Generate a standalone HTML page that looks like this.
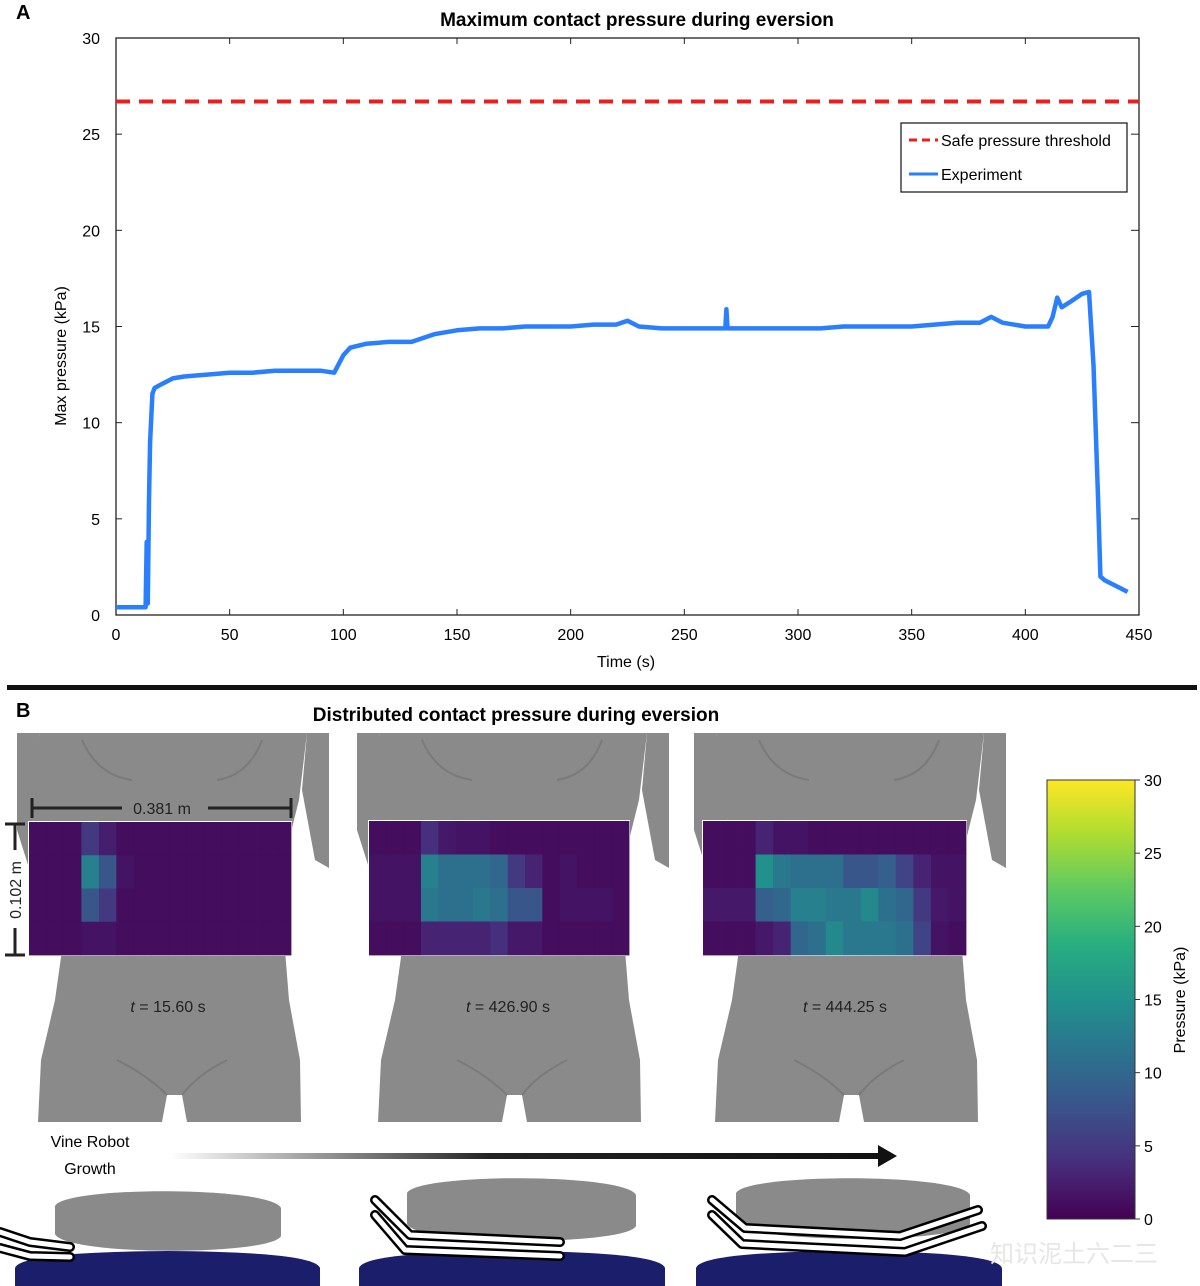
<!DOCTYPE html>
<html><head><meta charset="utf-8"><style>
body{margin:0;background:#fff;}
svg{display:block;font-family:"Liberation Sans","Noto Sans CJK SC",sans-serif;}
</style></head><body>
<svg id="fig" width="1200" height="1286" viewBox="0 0 1200 1286" xmlns="http://www.w3.org/2000/svg">
<defs>
<linearGradient id="arrowGrad" x1="0" x2="1" y1="0" y2="0"><stop offset="0" stop-color="#fff"/><stop offset="0.45" stop-color="#222"/><stop offset="1" stop-color="#111"/></linearGradient>
<linearGradient id="cbGrad" x1="0" x2="0" y1="1" y2="0">
<stop offset="0" stop-color="#440154"/><stop offset="0.125" stop-color="#472d7b"/><stop offset="0.25" stop-color="#3b528b"/><stop offset="0.375" stop-color="#2c728e"/><stop offset="0.5" stop-color="#21918c"/><stop offset="0.625" stop-color="#28ae80"/><stop offset="0.75" stop-color="#5ec962"/><stop offset="0.875" stop-color="#addc30"/><stop offset="1" stop-color="#fde725"/></linearGradient>
</defs>
<text x="16" y="19" font-size="20" font-weight="bold">A</text>
<text x="637" y="26" font-size="19" font-weight="bold" text-anchor="middle">Maximum contact pressure during eversion</text>
<g id="chartA"></g>
<rect x="7" y="685" width="1190" height="5" fill="#111"/>
<text x="16" y="717" font-size="20" font-weight="bold">B</text>
<text x="516" y="721" font-size="19" font-weight="bold" text-anchor="middle">Distributed contact pressure during eversion</text>
<g id="panelsB"></g>
<g>
<rect x="1047" y="780" width="88" height="439" fill="url(#cbGrad)" stroke="#333" stroke-width="1"/>
<g id="cbTicks"></g>
<text transform="translate(1185,1000) rotate(-90)" font-size="16" text-anchor="middle">Pressure (kPa)</text>
</g>
<text x="90" y="1147" font-size="16" text-anchor="middle">Vine Robot</text>
<text x="90" y="1174" font-size="16" text-anchor="middle">Growth</text>
<rect x="170" y="1153" width="712" height="6" fill="url(#arrowGrad)"/>
<polygon points="878,1145 897,1156 878,1167" fill="#111"/>
<g id="bottomIllus"></g>
<text x="990" y="1262" font-size="24" fill="#e6e6e6">知识泥土六二三</text>
</svg>
<script>
const NS="http://www.w3.org/2000/svg";
function mk(tag,attrs,parent){const e=document.createElementNS(NS,tag);for(const k in attrs)e.setAttribute(k,attrs[k]);parent.appendChild(e);return e;}

// ---------- Chart A data ----------
const timeS=[0,5,10,13,13.5,14,14.5,15,16,17,20,25,30,40,50,60,70,80,90,96,100,103,110,120,130,140,150,160,170,180,190,200,210,220,225,230,240,250,260,268,268.5,269,280,290,300,310,320,330,340,350,360,370,380,385,390,400,410,412,414,416,420,425,428,430,432,433,435,440,445];
const pressureKPa=[0.4,0.4,0.4,0.4,3.8,0.6,6,9,11.5,11.8,12.0,12.3,12.4,12.5,12.6,12.6,12.7,12.7,12.7,12.6,13.5,13.9,14.1,14.2,14.2,14.6,14.8,14.9,14.9,15.0,15.0,15.0,15.1,15.1,15.3,15.0,14.9,14.9,14.9,14.9,15.9,14.9,14.9,14.9,14.9,14.9,15.0,15.0,15.0,15.0,15.1,15.2,15.2,15.5,15.2,15.0,15.0,15.5,16.5,16.0,16.3,16.7,16.8,13,6,2,1.8,1.5,1.2];
const xTicks=[0,50,100,150,200,250,300,350,400,450];
const yTicks=[0,5,10,15,20,25,30];
const safeThreshold=[26.7];

const PX0=116,PX1=1139,PY0=615,PY1=38;
const xs=t=>PX0+(t/450)*(PX1-PX0);
const ys=v=>PY0-(v/30)*(PY0-PY1);
const A=document.getElementById('chartA');
const frame=mk('rect',{x:PX0,y:PY1,width:PX1-PX0,height:PY0-PY1,fill:'none',stroke:'#222','stroke-width':1.3},A);


xTicks.forEach(t=>{
 const l=mk('line',{x1:xs(t),x2:xs(t),y1:PY0,y2:PY0-6,stroke:'#222'},A);
 
 mk('line',{x1:xs(t),x2:xs(t),y1:PY1,y2:PY1+6,stroke:'#222'},A);
 const tx=mk('text',{x:xs(t),y:PY0+25,'font-size':16,'text-anchor':'middle'},A);tx.textContent=t;
 
});
yTicks.forEach(v=>{
 const l=mk('line',{x1:PX0,x2:PX0+6,y1:ys(v),y2:ys(v),stroke:'#222'},A);
 
 mk('line',{x1:PX1,x2:PX1-8,y1:ys(v),y2:ys(v),stroke:'#222'},A);
 const tx=mk('text',{x:PX0-16,y:ys(v)+6,'font-size':16,'text-anchor':'end'},A);tx.textContent=v;
 
});
const xt=mk('text',{x:626,y:667,'font-size':16,'text-anchor':'middle'},A);xt.textContent='Time (s)';

const yt=mk('text',{transform:'translate(66,356) rotate(-90)','font-size':16,'text-anchor':'middle'},A);yt.textContent='Max pressure (kPa)';

const th=mk('line',{x1:PX0,x2:PX1,y1:ys(safeThreshold[0]),y2:ys(safeThreshold[0]),stroke:'#ee1c1c','stroke-width':4,'stroke-dasharray':'14,9'},A);

const pts=timeS.map((t,i)=>xs(t).toFixed(1)+','+ys(pressureKPa[i]).toFixed(1)).join(' ');
const ln=mk('polyline',{points:pts,fill:'none',stroke:'#2a7fff','stroke-width':4.5,'stroke-linejoin':'round'},A);

const lg=mk('g',{},A);

mk('rect',{x:901,y:123,width:226,height:69,fill:'#fff',stroke:'#222','stroke-width':1.3},lg);
mk('line',{x1:909,x2:938,y1:140,y2:140,stroke:'#ee1c1c','stroke-width':3,'stroke-dasharray':'8,5'},lg);
mk('line',{x1:909,x2:938,y1:174,y2:174,stroke:'#2a7fff','stroke-width':3},lg);
const l1=mk('text',{x:941,y:146,'font-size':16},lg);l1.textContent='Safe pressure threshold';

const l2=mk('text',{x:941,y:180,'font-size':16},lg);l2.textContent='Experiment';


// ---------- Panel B heatmaps ----------
const timeLabels=['15.60','426.90','444.25'];
const heat1=[
[1,1,1,5,2.5,1,1,1,1,1,1,1,1,1,1],
[1,1,1,13,8,1.5,1,1,1,1,1,1,1,1,1],
[1,1,1,8,5,1,1,1,1,1,1,1,1,1,1],
[1,1,1,1.5,1.5,1,1,1,1,1,1,1,1,1,1]];
const heat2=[
[1,1,1,4,2,1.5,1.5,1,1,1,1,1,1,1,1],
[1.5,1.5,1.5,13,11,11,11,10,5,3,1,1.5,1,1,1],
[1.5,1.5,1.5,12,11,11,12,11,8,8,1,1.5,1.5,1.5,1],
[1,1,1,3,3,3,3,4,2,2,1,1,1,1,1]];
const heat3=[
[1,1,1,3,1.5,1.5,1,1,1,1,1,1,1,1,1],
[1,1,1,15,12,11,11,11,8,8,9,6,3,1.5,1.5],
[2,2,2,9,10,13,13,12,12,14,11,10,5,2,1.5],
[1,1,1,2,3,10,11,14,12,12,12,11,6,1.5,1]];
const heatData=[heat1,heat2,heat3];

const vir=[[68,1,84],[71,45,123],[59,82,139],[44,114,142],[33,145,140],[40,174,128],[94,201,98],[173,220,48],[253,231,37]];
function viridis(v){let f=Math.max(0,Math.min(1,v/30))*8;const i=Math.min(7,Math.floor(f));const r=f-i;const a=vir[i],b=vir[i+1];
 return 'rgb('+a.map((c,k)=>Math.round(c+(b[k]-c)*r)).join(',')+')';}

const panelX=[17,357,694];
const heatBox=[[29,822,262,133],[369,821,260,134],[703,821,263,134]];
const B=document.getElementById('panelsB');
const gray='#8a8a8a',dgray='#7a7a7a';
panelX.forEach((ox,p)=>{
 const g=mk('g',{transform:'translate('+ox+',0)'},B);
 
 mk('path',{d:'M0,733 L22,733 L30,790 L38,850 L12,868 L0,830 Z',fill:gray},g);
 mk('path',{d:'M290,733 L312,733 L312,868 L298,860 L285,790 Z',fill:gray},g);
 mk('path',{d:'M22,733 L290,733 L282,800 L272,840 L270,880 L40,880 L38,840 L28,790 Z',fill:gray},g);
 mk('path',{d:'M65,740 Q80,775 115,780 M245,740 Q232,775 200,780',fill:'none',stroke:dgray,'stroke-width':2},g);
 mk('path',{d:'M45,950 L268,950 L272,1000 L283,1060 L284,1122 L170,1122 L165,1095 L150,1095 L145,1122 L21,1122 L24,1060 L38,1000 Z',fill:gray},g);
 mk('path',{d:'M100,1060 Q130,1075 150,1095 M210,1060 Q180,1075 165,1095',fill:'none',stroke:dgray,'stroke-width':2},g);
 const [hx,hy,hw,hh]=heatBox[p];
 const data=heatData[p];
 const hg=mk('g',{},B);
 
 mk('rect',{x:hx-1,y:hy-1,width:hw+2,height:hh+2,fill:'#fff'},hg);
 const rows=data.length,cols=data[0].length,cw=hw/cols,ch=hh/rows;
 data.forEach((row,r)=>row.forEach((v,c)=>{
  const cell=mk('rect',{x:(hx+c*cw).toFixed(2),y:(hy+r*ch).toFixed(2),width:(cw+0.4).toFixed(2),height:(ch+0.4).toFixed(2),fill:viridis(v)},hg);
  
  
 }));
 const t=mk('text',{x:ox+151,y:1012,'font-size':16,'text-anchor':'middle',fill:'#222'},B);
 t.innerHTML='<tspan font-style="italic">t</tspan> = '+timeLabels[p]+' s';
 
});
const dm=mk('g',{stroke:'#222','stroke-width':3,fill:'none'},B);

mk('path',{d:'M32,798 V818 M32,808 H122 M208,808 H291 M291,798 V818 M5,824 H25 M15,824 V850 M15,928 V955 M5,955 H25'},dm);
const d1=mk('text',{x:162,y:814,'font-size':16,'text-anchor':'middle',fill:'#222',stroke:'none'},B);d1.textContent='0.381 m';

const d2=mk('text',{transform:'translate(21,890) rotate(-90)','font-size':16,'text-anchor':'middle',fill:'#222'},B);d2.textContent='0.102 m';


const cbTicks=[0,5,10,15,20,25,30];
const CT=document.getElementById('cbTicks');
cbTicks.forEach(v=>{const y=1219-(v/30)*439;
 mk('line',{x1:1135,x2:1140,y1:y,y2:y,stroke:'#333'},CT);
 const tx=mk('text',{x:1144,y:y+6,'font-size':16},CT);tx.textContent=v;
 });

const BI=document.getElementById('bottomIllus');
const navy='#1b1f6b';
[[15,320,55,281,1190,1252],[359,665,407,636,1177,1242],[696,1002,736,970,1177,1240]].forEach((b,i)=>{
 const g=mk('g',{},BI);
 
 const [nx0,nx1,px0,px1,py0,py1]=b;
 mk('path',{d:`M${nx0},1286 L${nx0},1268 Q${nx0+5},1252 ${(nx0+nx1)/2},1251 Q${nx1-5},1252 ${nx1},1268 L${nx1},1286 Z`,fill:navy},g);
 const cx=(px0+px1)/2;
 mk('path',{d:`M${px0},${py0+16} C${px0+10},${py0-4} ${px1-10},${py0-4} ${px1},${py0+18} L${px1},${py1-16} C${px1-10},${py1+4} ${px0+10},${py1+4} ${px0},${py1-18} Z`,fill:'#8a8a8a'},g);
});
const tubes=[
 'M0,1232 L30,1242 L70,1247','M0,1248 L30,1256 L70,1257',
 'M375,1200 L410,1235 L560,1242','M375,1215 L405,1250 L560,1256',
 'M712,1200 L745,1228 L900,1236 L978,1210','M712,1215 L742,1244 L905,1252 L982,1226'];
tubes.forEach(d=>{
 const o=mk('path',{d:d,fill:'none',stroke:'#000','stroke-width':10,'stroke-linecap':'round','stroke-linejoin':'round'},BI);
 
 const w=mk('path',{d:d,fill:'none',stroke:'#fff','stroke-width':5,'stroke-linecap':'round','stroke-linejoin':'round'},BI);
 
});
</script>
</body></html>
